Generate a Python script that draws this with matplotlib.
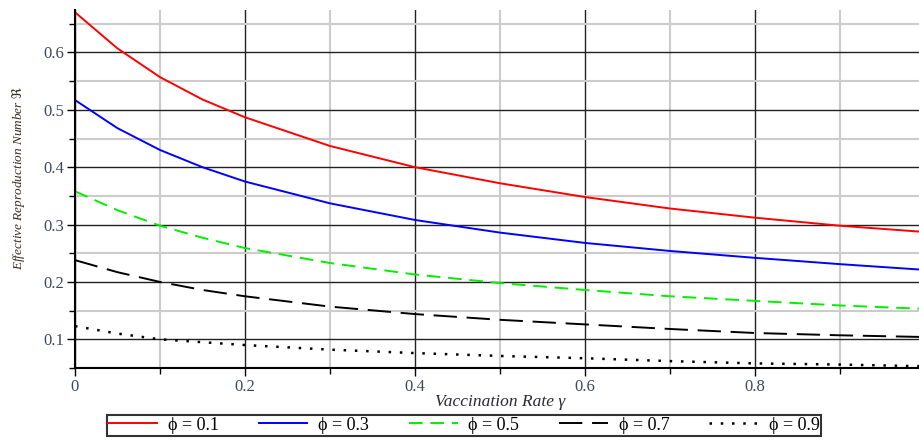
import matplotlib
matplotlib.use("Agg")
import matplotlib.pyplot as plt
from matplotlib.ticker import MultipleLocator

# vaccination rate (x) and R for each phi
gamma = [0.0, 0.05, 0.1, 0.15, 0.2, 0.3, 0.4, 0.5, 0.6, 0.7, 0.8, 0.9, 1.0]
r_01 = [0.670, 0.607, 0.557, 0.518, 0.487, 0.437, 0.400, 0.372, 0.348, 0.328, 0.312, 0.298, 0.287]
r_03 = [0.517, 0.468, 0.430, 0.400, 0.375, 0.337, 0.308, 0.286, 0.268, 0.254, 0.242, 0.231, 0.221]
r_05 = [0.358, 0.325, 0.298, 0.277, 0.259, 0.233, 0.213, 0.198, 0.186, 0.175, 0.167, 0.159, 0.153]
r_07 = [0.238, 0.217, 0.200, 0.186, 0.175, 0.157, 0.144, 0.134, 0.126, 0.118, 0.111, 0.107, 0.104]
r_09 = [0.123, 0.110, 0.100, 0.095, 0.090, 0.082, 0.076, 0.071, 0.067, 0.062, 0.058, 0.056, 0.053]

labels = ["ϕ = 0.1", "ϕ = 0.3", "ϕ = 0.5", "ϕ = 0.7", "ϕ = 0.9"]

serif = ["Liberation Serif", "DejaVu Serif", "DejaVu Sans"]
plt.rcParams["font.family"] = serif
tick_col = "#3d4860"

fig = plt.figure(figsize=(9.2, 4.41), dpi=100)
ax = fig.add_axes([75 / 920, 73 / 441, 850 / 920, 358 / 441])

lw = 1.4
ax.plot(gamma, r_01, color="#ff0000", lw=lw, label=labels[0])
ax.plot(gamma, r_03, color="#0000ff", lw=lw, label=labels[1])
ax.plot(gamma, r_05, color="#00ee00", lw=lw, dashes=(7, 4), label=labels[2])
ax.plot(gamma, r_07, color="black", lw=lw, dashes=(12, 5), label=labels[3])
ax.plot(gamma, r_09, color="black", lw=1.8, dashes=(1, 3.5), label=labels[4])

ax.set_xlim(0, 1)
ax.set_ylim(0.05, 0.674)

ax.xaxis.set_minor_locator(MultipleLocator(0.1))
ax.yaxis.set_minor_locator(MultipleLocator(0.05))
ax.set_xticks([0, 0.2, 0.4, 0.6, 0.8, 1.0])
ax.set_xticklabels(["0", "0.2", "0.4", "0.6", "0.8", "1"])
ax.set_yticks([0.1, 0.2, 0.3, 0.4, 0.5, 0.6])
ax.set_yticklabels(["0.1", "0.2", "0.3", "0.4", "0.5", "0.6"])

ax.grid(which="minor", color="#cccccc", lw=1.5)
ax.grid(which="major", color="#222222", lw=1.0)
ax.set_axisbelow(True)

for side in ["top", "right"]:
    ax.spines[side].set_visible(False)
ax.spines["left"].set_linewidth(1.5)
ax.spines["bottom"].set_linewidth(1.5)

ax.tick_params(which="major", direction="out", length=6, width=1, labelsize=12,
               labelcolor=tick_col, pad=2)
ax.tick_params(which="minor", direction="out", length=4, width=1)

ax.set_xlabel("Vaccination Rate γ", fontstyle="italic", fontsize=12.5,
              color="#2a2a35", labelpad=-1)
ax.set_ylabel("Effective Reproduction Number $\\Re$", fontstyle="italic", fontsize=9.5,
              color="#3a2a20")
ax.yaxis.set_label_coords(-0.056, 0.53)

leg = fig.legend(loc="upper center", bbox_to_anchor=(464 / 920, 1 - 415 / 441),
                 ncol=5, fontsize=13, frameon=True, fancybox=False,
                 handlelength=2.7, columnspacing=2.2, handletextpad=0.6,
                 borderpad=0.1, borderaxespad=0)
leg.get_frame().set_edgecolor("black")
leg.get_frame().set_linewidth(1.5)

fig.savefig("out.png", dpi=100)
